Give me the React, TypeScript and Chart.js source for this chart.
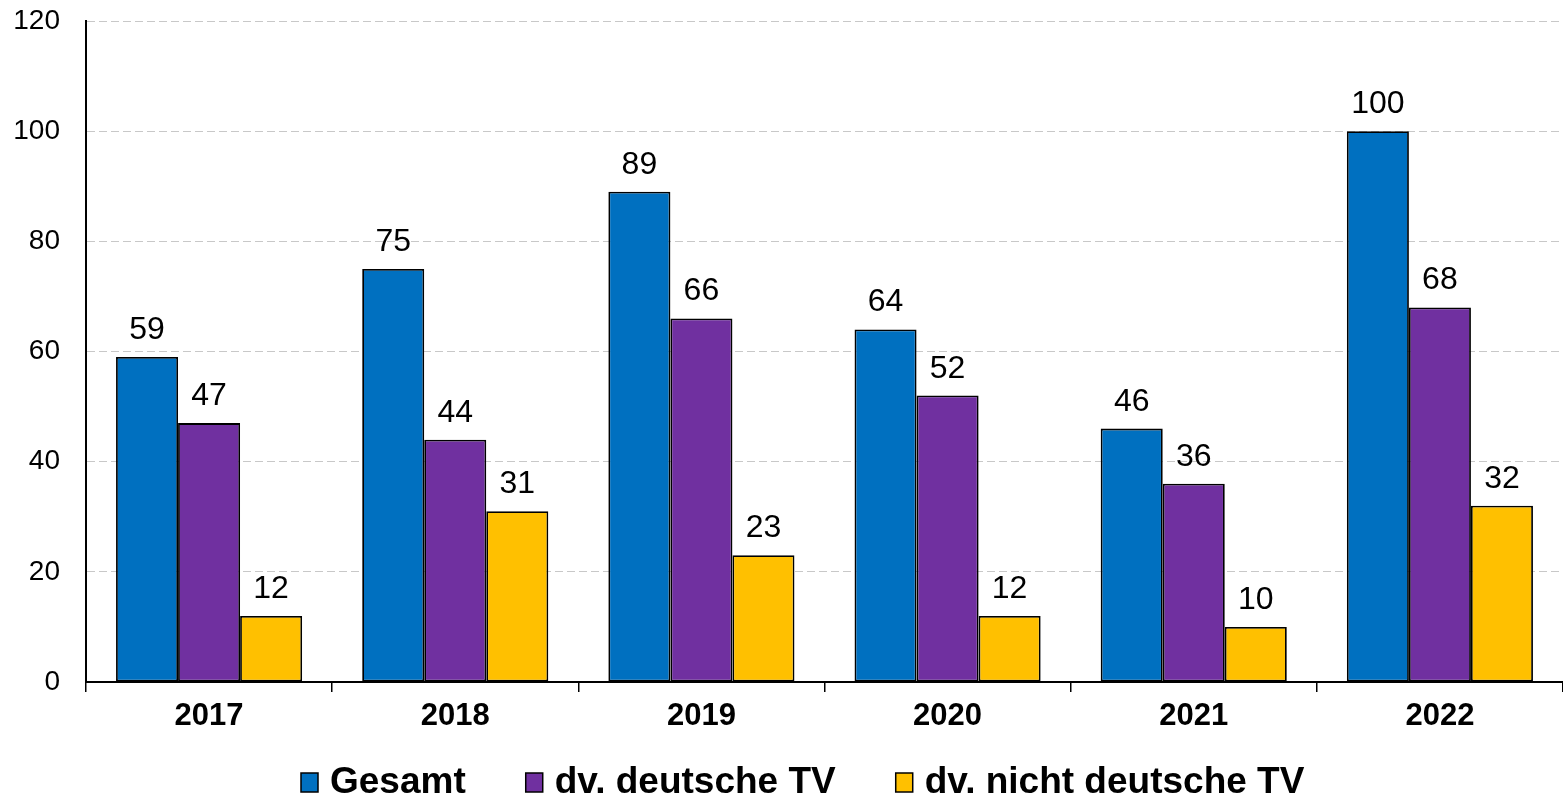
import React, { useEffect, useRef } from 'react';
import { Chart, registerables } from 'chart.js';

Chart.register(...registerables);

const categories = ['2017', '2018', '2019', '2020', '2021', '2022'];
const gesamt = [59, 75, 89, 64, 46, 100];
const deutscheTV = [47, 44, 66, 52, 36, 68];
const nichtDeutscheTV = [12, 31, 23, 12, 10, 32];
const seriesLabels = ['Gesamt', 'dv. deutsche TV', 'dv. nicht deutsche TV'];
const seriesColors = ['#0070C0', '#7030A0', '#FFC000'];
const yMin = 0;
const yMax = 120;
const yStep = 20;

const FONT = '"Liberation Sans", Arial, Helvetica, sans-serif';

const valueLabelPlugin = {
  id: 'valueLabels',
  afterDatasetsDraw(chart: any) {
    const ctx = chart.ctx;
    ctx.save();
    ctx.font = `32px ${FONT}`;
    ctx.fillStyle = '#000';
    ctx.textAlign = 'center';
    ctx.textBaseline = 'alphabetic';
    chart.data.datasets.forEach((ds: any, di: number) => {
      const meta = chart.getDatasetMeta(di);
      meta.data.forEach((bar: any, i: number) => {
        ctx.fillText(String(ds.data[i]), bar.x, bar.y - 18);
      });
    });
    ctx.restore();
  },
};

const legendPlugin = {
  id: 'customLegend',
  afterDraw(chart: any) {
    const ctx = chart.ctx;
    ctx.save();
    ctx.font = `bold 37px ${FONT}`;
    const boxW = 17;
    const boxH = 19;
    const boxToText = 29;
    const gap = 60;
    let x = 301;
    const boxTop = 773;
    const textBase = 793;
    chart.data.datasets.forEach((ds: any) => {
      ctx.fillStyle = ds.backgroundColor;
      ctx.fillRect(x, boxTop, boxW, boxH);
      ctx.strokeStyle = '#000';
      ctx.lineWidth = 1.5;
      ctx.strokeRect(x, boxTop, boxW, boxH);
      ctx.fillStyle = '#000';
      ctx.textAlign = 'left';
      ctx.textBaseline = 'alphabetic';
      ctx.fillText(ds.label, x + boxToText, textBase);
      x += boxToText + ctx.measureText(ds.label).width + gap;
    });
    ctx.restore();
  },
};

export default function App() {
  const canvasRef = useRef<HTMLCanvasElement | null>(null);

  useEffect(() => {
    const canvas = canvasRef.current;
    if (!canvas) return;
    const seriesData = [gesamt, deutscheTV, nichtDeutscheTV];
    const chart = new Chart(canvas, {
      type: 'bar',
      data: {
        labels: categories,
        datasets: seriesData.map((d, i) => ({
          label: seriesLabels[i],
          data: d,
          backgroundColor: seriesColors[i],
          borderColor: '#000',
          borderWidth: 1.8,
          borderSkipped: false,
          barPercentage: 1,
          categoryPercentage: 0.756,
        })),
      },
      options: {
        responsive: true,
        maintainAspectRatio: false,
        animation: false,
        layout: { padding: { top: 0, right: 0, bottom: 56, left: 0 } },
        plugins: {
          legend: { display: false },
          tooltip: { enabled: false },
          title: { display: false },
        },
        scales: {
          x: {
            offset: true,
            grid: {
              offset: true,
              drawOnChartArea: false,
              drawTicks: true,
              tickLength: 10,
              color: '#000',
              lineWidth: 1.5,
            },
            border: { display: true, color: '#000', width: 2 },
            ticks: {
              color: '#000',
              font: { family: FONT, size: 31, weight: 'bold' },
              padding: 6,
              maxRotation: 0,
            },
            afterFit: (scale: any) => {
              scale.height = 60;
              scale.paddingLeft = 0;
              scale.paddingRight = 0;
            },
          },
          y: {
            min: yMin,
            max: yMax,
            ticks: {
              stepSize: yStep,
              color: '#000',
              font: { family: FONT, size: 28 },
              padding: 26,
            },
            grid: {
              drawTicks: false,
              color: '#c8c8c8',
              lineWidth: 1,
            },
            border: { display: true, color: '#000', width: 2, dash: [8, 4] },
            afterFit: (scale: any) => {
              scale.width = 86;
              scale.paddingTop = 21;
              scale.paddingBottom = 0;
            },
          },
        },
      },
      plugins: [valueLabelPlugin, legendPlugin],
    });
    return () => chart.destroy();
  }, []);

  return (
    <div style={{ position: 'fixed', left: 0, top: 0, width: 1563, height: 798, background: '#fff' }}>
      <canvas ref={canvasRef} />
    </div>
  );
}
